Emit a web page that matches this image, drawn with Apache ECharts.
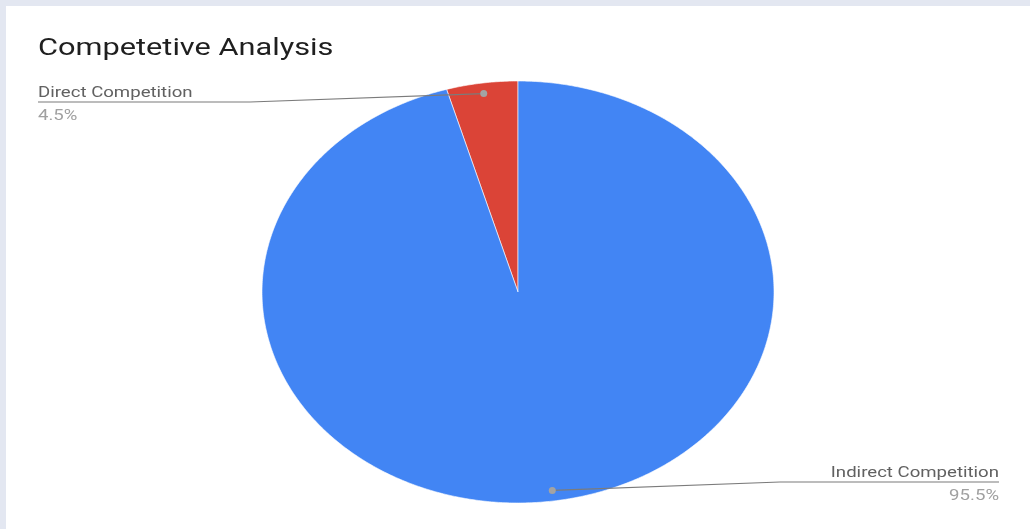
<!DOCTYPE html>
<html>
<head>
<meta charset="utf-8">
<script src="https://cdn.jsdelivr.net/npm/echarts@6/dist/echarts.min.js"></script>
<style>
  html, body { margin: 0; padding: 0; background: #e3e7f1; }
  #chart { width: 1030px; height: 529px; }
</style>
</head>
<body>
<div id="chart"></div>
<script>
// Share of competitors by type (percent)
const categories = ['Direct Competition', 'Indirect Competition'];
const shares = [4.5, 95.5];
const sliceColors = ['#db4437', '#4285f4'];
const titleText = 'Competetive Analysis';

// Pie geometry: the chart area is wider than tall, so the pie is an ellipse
const pie = { cx: 518, cy: 292, rx: 256, ry: 211 };
// Text is drawn stretched sideways like the rest of the chart
const textStretch = 1.24;
// Where the callout text sits on each side of the pie
const callout = {
  left:  { x: 38,  bendX: 250, lineY: 102 },
  right: { x: 999, bendX: 780, lineY: 482 }
};

const total = shares.reduce((a, b) => a + b, 0);

// Angle t measured from 12 o'clock; slices run counter-clockwise
function pointAt(t, k) {
  return [pie.cx + k * pie.rx * Math.sin(t), pie.cy - k * pie.ry * Math.cos(t)];
}

function renderSlice(params, api) {
  const i = params.dataIndex;
  let before = 0;
  for (let j = 0; j < i; j++) before += shares[j];
  const t0 = -before / total * Math.PI * 2;
  const t1 = -(before + shares[i]) / total * Math.PI * 2;

  const pts = [[pie.cx, pie.cy]];
  const steps = Math.max(2, Math.ceil(Math.abs(t1 - t0) / (Math.PI / 360)));
  for (let s = 0; s <= steps; s++) {
    pts.push(pointAt(t0 + (t1 - t0) * s / steps, 1));
  }

  const mid = (t0 + t1) / 2;
  const dot = pointAt(mid, 0.95);
  const side = Math.sin(mid) < 0 ? callout.left : callout.right;
  const isLeft = side === callout.left;
  const pct = (shares[i] / total * 100).toFixed(1) + '%';

  return {
    type: 'group',
    children: [
      {
        type: 'polygon',
        shape: { points: pts },
        style: { fill: sliceColors[i], stroke: '#ffffff', lineWidth: 0.6 }
      },
      {
        type: 'polyline',
        z2: 5,
        shape: { points: [[side.x, side.lineY], [side.bendX, side.lineY], dot] },
        style: { stroke: '#7b7b7b', lineWidth: 1.2, fill: null }
      },
      {
        type: 'circle',
        z2: 6,
        shape: { cx: dot[0], cy: dot[1], r: 3.5 },
        style: { fill: '#a3a3a3' }
      },
      {
        type: 'text',
        z2: 6,
        scaleX: textStretch,
        originX: side.x,
        originY: side.lineY,
        style: {
          x: side.x, y: side.lineY - 1,
          text: categories[i],
          align: isLeft ? 'left' : 'right',
          verticalAlign: 'bottom',
          fill: '#616161',
          font: '15px Roboto'
        }
      },
      {
        type: 'text',
        z2: 6,
        scaleX: textStretch,
        originX: side.x,
        originY: side.lineY,
        style: {
          x: side.x, y: side.lineY + 7,
          text: pct,
          align: isLeft ? 'left' : 'right',
          verticalAlign: 'top',
          fill: '#a0a0a0',
          font: '15px Roboto'
        }
      }
    ]
  };
}

const chart = echarts.init(document.getElementById('chart'), null, { renderer: 'canvas' });
chart.setOption({
  animation: false,
  backgroundColor: 'transparent',
  graphic: [
    {
      type: 'rect',
      z: -10,
      shape: { x: 6, y: 6, width: 1024, height: 523 },
      style: { fill: '#ffffff' }
    },
    {
      type: 'text',
      z: 10,
      x: 38,
      y: 61,
      scaleX: 1.28,
      style: {
        text: titleText,
        x: 0, y: 0,
        align: 'left',
        verticalAlign: 'bottom',
        fill: '#1f1f1f',
        font: '24px Roboto'
      }
    }
  ],
  series: [{
    type: 'custom',
    coordinateSystem: 'none',
    renderItem: renderSlice,
    data: categories.map((name, i) => ({ name: name, value: shares[i] }))
  }]
});
</script>
</body>
</html>
